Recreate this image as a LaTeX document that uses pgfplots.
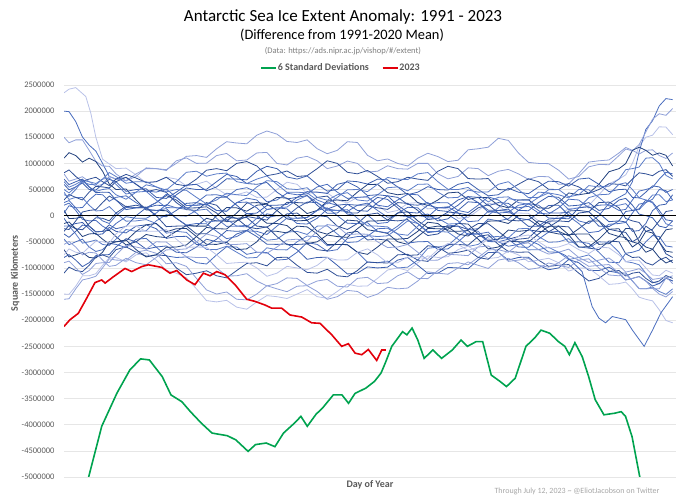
\documentclass[border=0pt]{standalone}
\usepackage{pgfplots}
\pgfplotsset{compat=1.18}
\usepackage{fontspec}
\setmainfont{Carlito}
\definecolor{c1}{HTML}{22417E}
\definecolor{c2}{HTML}{2F4F96}
\definecolor{c3}{HTML}{3C5FAF}
\definecolor{c4}{HTML}{4A6DBE}
\definecolor{c5}{HTML}{5B7CC8}
\definecolor{c6}{HTML}{8FA0D8}
\definecolor{c7}{HTML}{B8C1E8}
\definecolor{sdgreen}{HTML}{00A34F}
\definecolor{redline}{HTML}{E3000B}
\definecolor{lgray}{HTML}{595959}
\definecolor{notegray}{HTML}{7F7F7F}
\definecolor{footgray}{HTML}{A6A6A6}
\definecolor{gridgray}{HTML}{E6E6E6}
\begin{document}
\begin{tikzpicture}[x=1pt,y=1pt]
\path[use as bounding box] (0,0) rectangle (680,500);
\begin{axis}[
  at={(64pt,23pt)}, anchor=south west,
  scale only axis, width=612pt, height=392pt,
  xmin=1, xmax=366, ymin=-5000000, ymax=2500000,
  xtick=\empty,
  ytick={-5000000,-4500000,-4000000,-3500000,-3000000,-2500000,-2000000,-1500000,-1000000,-500000,0,500000,1000000,1500000,2000000,2500000},
  scaled y ticks=false,
  /pgf/number format/assume math mode=true,
  yticklabel style={/pgf/number format/fixed,/pgf/number format/1000 sep={},font=\fontsize{8.5}{10}\selectfont,text=lgray,anchor=east,xshift=-6pt},
  ymajorgrids, grid style={draw=gridgray,line width=0.6pt},
  axis line style={draw=none}, tick style={draw=none},
  xlabel={Day of Year}, ylabel={Square Kilometers},
  label style={font=\bfseries\fontsize{10}{12}\selectfont,text=lgray},
  xlabel style={at={(axis description cs:0.5,0)},anchor=center,yshift=-8pt},
  ylabel style={at={(axis description cs:-0.080,0.52)},anchor=center},
  legend style={at={(0.4518,1.0434)},anchor=center,draw=none,fill=none,
    font=\bfseries\fontsize{10}{12}\selectfont,text=lgray,
    legend columns=2,/tikz/every even column/.append style={column sep=12pt},
    inner sep=0pt,nodes={inner sep=1pt}},
  legend image code/.code={\draw[#1] (0pt,0pt) -- (15pt,0pt);},
  blue/.style={line width=0.8pt,forget plot},
]
% 1991-2022 (blue lines)
\addplot[blue,c7] coordinates {(1,2350000) (4,2420000) (8,2450000) (14,2280000) (17,1960000) (20,1500000) (24,1080000) (32,900000) (38,910000) (44,780000) (50,625000) (56,650000) (62,735000) (68,700000) (74,570000) (80,600000) (86,660000) (92,520000) (98,400000) (104,400000) (110,455000) (116,350000) (122,355000) (128,500000) (134,640000) (140,600000) (146,425000) (152,450000) (158,435000) (164,300000) (170,245000) (176,350000) (182,345000) (188,200000) (194,60000) (200,100000) (206,235000) (212,250000) (218,130000) (224,150000) (230,130000) (236,-50000) (242,-35000) (248,100000) (254,240000) (260,200000) (266,45000) (272,50000) (278,45000) (284,-100000) (290,-150000) (296,0) (302,135000) (308,150000) (314,195000) (320,400000) (326,610000) (332,700000) (336,780000) (340,1000000) (344,1330000) (348,1500000) (352,1540000) (356,1700000) (360,1695000) (364,1550000)};
\addplot[blue,c4] coordinates {(1,2000000) (4,1990000) (8,1800000) (12,1505000) (16,1350000) (20,1235000) (24,1000000) (28,750000) (32,700000) (38,730000) (44,600000) (50,475000) (56,450000) (62,510000) (68,350000) (74,195000) (80,200000) (86,220000) (92,100000) (98,85000) (104,250000) (110,335000) (116,300000) (122,115000) (128,150000) (134,130000) (140,-50000) (146,-35000) (152,100000) (158,250000) (164,200000) (170,30000) (176,0) (182,15000) (188,-150000) (194,-130000) (200,50000) (206,160000) (212,150000) (218,-25000) (224,0) (230,20000) (236,-100000) (242,-265000) (248,-250000) (254,-65000) (260,-100000) (266,-60000) (272,100000) (278,230000) (284,200000) (290,55000) (296,50000) (302,65000) (308,-100000) (314,-150000) (320,0) (326,235000) (332,350000) (336,420000) (340,650000) (344,1220000) (348,1650000) (352,1815000) (356,2100000) (360,2240000) (364,2220000)};
\addplot[blue,c6] coordinates {(1,1500000) (4,1395000) (8,1450000) (12,1450000) (16,1250000) (20,1040000) (24,950000) (28,945000) (32,800000) (38,665000) (44,750000) (50,915000) (56,900000) (62,880000) (68,1000000) (74,1135000) (80,1150000) (86,1115000) (92,1280000) (98,1415000) (104,1390000) (110,1375000) (116,1540000) (122,1620000) (128,1560000) (134,1420000) (140,1400000) (146,1450000) (152,1280000) (158,1185000) (164,1250000) (170,1415000) (176,1400000) (182,1155000) (188,1050000) (194,1085000) (200,1000000) (206,950000) (212,1100000) (218,1195000) (224,1130000) (230,1035000) (236,1060000) (242,1260000) (248,1280000) (254,1310000) (260,1480000) (266,1440000) (272,1200000) (278,1020000) (284,1000000) (290,995000) (296,870000) (302,700000) (308,750000) (314,935000) (320,980000) (326,975000) (332,1150000) (336,1275000) (340,1240000) (344,1360000) (348,1600000) (352,1845000) (356,1950000) (360,1920000) (364,2050000)};
\addplot[blue,c6] coordinates {(1,800000) (4,660000) (8,700000) (12,745000) (16,650000) (20,565000) (24,600000) (28,750000) (32,700000) (38,670000) (44,800000) (50,900000) (56,900000) (62,865000) (68,1050000) (74,1105000) (80,1000000) (86,1005000) (92,1150000) (98,1190000) (104,1050000) (110,1065000) (116,1200000) (122,1210000) (128,1000000) (134,970000) (140,1100000) (146,1135000) (152,1050000) (158,900000) (164,950000) (170,1045000) (176,1000000) (182,835000) (188,850000) (194,955000) (200,900000) (206,890000) (212,1000000) (218,1000000) (224,800000) (230,705000) (236,750000) (242,915000) (248,900000) (254,765000) (260,850000) (266,885000) (272,800000) (278,695000) (284,750000) (290,745000) (296,600000) (302,610000) (308,800000) (314,1025000) (320,1050000) (326,1065000) (332,1200000) (336,1305000) (340,1250000) (344,1180000) (348,1250000) (352,1260000) (356,1150000) (360,1095000) (364,1200000)};
\addplot[blue,c1] coordinates {(1,1100000) (4,1205000) (8,1150000) (12,1025000) (16,1100000) (20,1035000) (24,850000) (28,605000) (32,500000) (38,510000) (44,300000) (50,110000) (56,100000) (62,95000) (68,-50000) (74,-185000) (80,-200000) (86,-50000) (92,-100000) (98,-105000) (104,50000) (110,240000) (116,250000) (122,230000) (128,350000) (134,335000) (140,200000) (146,40000) (152,100000) (158,280000) (164,300000) (170,285000) (176,450000) (182,595000) (188,600000) (194,440000) (200,400000) (206,425000) (212,250000) (218,195000) (224,300000) (230,435000) (236,450000) (242,310000) (248,350000) (254,345000) (260,200000) (266,150000) (272,300000) (278,305000) (284,150000) (290,140000) (296,250000) (302,435000) (308,400000) (314,430000) (320,600000) (326,840000) (332,900000) (336,995000) (340,1250000) (344,1310000) (348,1250000) (352,1155000) (356,1200000) (360,1155000) (364,950000)};
\addplot[blue,c2] coordinates {(1,820000) (4,875000) (8,750000) (12,655000) (16,700000) (20,735000) (24,650000) (28,575000) (32,700000) (38,790000) (44,720000) (50,635000) (56,650000) (62,735000) (68,600000) (74,570000) (80,700000) (86,870000) (92,900000) (98,860000) (104,1000000) (110,1035000) (116,950000) (122,765000) (128,800000) (134,855000) (140,750000) (146,765000) (152,900000) (158,1050000) (164,1000000) (170,830000) (176,800000) (182,865000) (188,750000) (194,620000) (200,650000) (206,735000) (212,700000) (218,675000) (224,850000) (230,945000) (236,900000) (242,710000) (248,700000) (254,710000) (260,500000) (266,490000) (272,600000) (278,705000) (284,650000) (290,505000) (296,500000) (302,615000) (308,550000) (314,425000) (320,500000) (326,610000) (332,600000) (336,570000) (340,700000) (344,820000) (348,800000) (352,765000) (356,850000) (360,880000) (364,750000)};
\addplot[blue,c3] coordinates {(1,600000) (4,495000) (8,550000) (12,625000) (16,500000) (20,490000) (24,600000) (28,695000) (32,650000) (38,465000) (44,500000) (50,515000) (56,350000) (62,330000) (68,450000) (74,585000) (80,600000) (86,475000) (92,550000) (98,705000) (104,700000) (110,685000) (116,850000) (122,945000) (128,900000) (134,740000) (140,700000) (146,760000) (152,600000) (158,470000) (164,500000) (170,665000) (176,650000) (182,605000) (188,700000) (194,685000) (200,550000) (206,400000) (212,450000) (218,555000) (224,500000) (230,490000) (236,600000) (242,640000) (248,500000) (254,380000) (260,400000) (266,525000) (272,450000) (278,420000) (284,550000) (290,660000) (296,650000) (302,565000) (308,700000) (314,720000) (320,600000) (326,460000) (332,500000) (336,505000) (340,350000) (344,340000) (348,450000) (352,570000) (356,550000) (360,445000) (364,500000)};
\addplot[blue,c5] coordinates {(1,450000) (4,310000) (8,350000) (12,345000) (16,200000) (20,90000) (24,100000) (28,175000) (32,50000) (38,-105000) (44,-100000) (50,-75000) (56,-150000) (62,-335000) (68,-300000) (74,-320000) (80,-500000) (86,-645000) (92,-650000) (98,-585000) (104,-700000) (110,-810000) (116,-800000) (122,-615000) (128,-650000) (134,-655000) (140,-500000) (146,-390000) (152,-400000) (158,-575000) (164,-550000) (170,-555000) (176,-700000) (182,-890000) (188,-900000) (194,-870000) (200,-1000000) (206,-985000) (212,-850000) (218,-625000) (224,-600000) (230,-570000) (236,-400000) (242,-260000) (248,-300000) (254,-485000) (260,-450000) (266,-415000) (272,-500000) (278,-655000) (284,-650000) (290,-605000) (296,-700000) (302,-840000) (308,-800000) (314,-750000) (320,-900000) (326,-1060000) (332,-1100000) (336,-1095000) (340,-1250000) (344,-1395000) (348,-1400000) (352,-1365000) (356,-1450000) (360,-1505000) (364,-1400000)};
\addplot[blue,c2] coordinates {(1,300000) (4,405000) (8,350000) (12,300000) (16,450000) (20,560000) (24,550000) (28,530000) (32,650000) (38,735000) (44,600000) (50,460000) (56,500000) (62,445000) (68,250000) (74,115000) (80,100000) (86,250000) (92,200000) (98,-5000) (104,-50000) (110,-35000) (116,-200000) (122,-220000) (128,-100000) (134,35000) (140,50000) (146,-85000) (152,0) (158,-20000) (164,-200000) (170,-265000) (176,-150000) (182,20000) (188,50000) (194,-85000) (200,-100000) (206,-75000) (212,-250000) (218,-380000) (224,-350000) (230,-215000) (236,-200000) (242,-265000) (248,-150000) (254,-155000) (260,-300000) (266,-450000) (272,-400000) (278,-270000) (284,-300000) (290,-310000) (296,-200000) (302,-215000) (308,-450000) (314,-620000) (320,-650000) (326,-485000) (332,-500000) (336,-730000) (340,-800000) (344,-790000) (348,-900000) (352,-945000) (356,-850000) (360,-795000) (364,-900000)};
\addplot[blue,c4] coordinates {(1,200000) (4,240000) (8,100000) (12,-70000) (16,-100000) (20,-90000) (24,-200000) (28,-275000) (32,-150000) (38,-20000) (44,-50000) (50,-50000) (56,50000) (62,210000) (68,150000) (74,120000) (80,250000) (86,395000) (92,400000) (98,360000) (104,500000) (110,535000) (116,450000) (122,265000) (128,300000) (134,430000) (140,400000) (146,415000) (152,550000) (158,600000) (164,450000) (170,330000) (176,350000) (182,365000) (188,200000) (194,170000) (200,300000) (206,410000) (212,400000) (218,225000) (224,250000) (230,245000) (236,100000) (242,60000) (248,200000) (254,360000) (260,300000) (266,165000) (272,150000) (278,180000) (284,50000) (290,30000) (296,150000) (302,315000) (308,300000) (314,150000) (320,200000) (326,210000) (332,100000) (336,120000) (340,300000) (344,470000) (348,500000) (352,540000) (356,700000) (360,830000) (364,800000)};
\addplot[blue,c1] coordinates {(1,100000) (4,-55000) (8,-50000) (12,-25000) (16,-200000) (20,-310000) (24,-300000) (28,-280000) (32,-400000) (38,-560000) (44,-500000) (50,-360000) (56,-400000) (62,-420000) (68,-300000) (74,-190000) (80,-200000) (86,-200000) (92,0) (98,155000) (104,150000) (110,85000) (116,200000) (122,220000) (128,100000) (134,-60000) (140,-100000) (146,-90000) (152,-300000) (158,-355000) (164,-250000) (170,-85000) (176,-100000) (182,-270000) (188,-300000) (194,-340000) (200,-500000) (206,-550000) (212,-400000) (218,-245000) (224,-250000) (230,-260000) (236,-150000) (242,-160000) (248,-350000) (254,-470000) (260,-450000) (266,-275000) (272,-300000) (278,-280000) (284,-100000) (290,-140000) (296,-300000) (302,-385000) (308,-250000) (314,-105000) (320,-100000) (326,-340000) (332,-400000) (336,-420000) (340,-600000) (344,-510000) (348,-300000) (352,-330000) (356,-500000) (360,-680000) (364,-700000)};
\addplot[blue,c3] coordinates {(1,-50000) (4,-190000) (8,-150000) (12,-130000) (16,-250000) (20,-360000) (24,-350000) (28,-225000) (32,-300000) (38,-330000) (44,-200000) (50,-175000) (56,-250000) (62,-435000) (68,-400000) (74,-395000) (80,-550000) (86,-570000) (92,-450000) (98,-285000) (104,-300000) (110,-285000) (116,-150000) (122,35000) (128,0) (134,-5000) (140,150000) (146,260000) (152,250000) (158,125000) (164,200000) (170,220000) (176,100000) (182,85000) (188,250000) (194,380000) (200,350000) (206,215000) (212,200000) (218,250000) (224,100000) (230,80000) (236,200000) (242,365000) (248,350000) (254,190000) (260,250000) (266,235000) (272,100000) (278,95000) (284,250000) (290,370000) (296,350000) (302,185000) (308,200000) (314,250000) (320,100000) (326,140000) (332,300000) (336,330000) (340,200000) (344,30000) (348,0) (352,-40000) (356,-200000) (360,-230000) (364,-100000)};
\addplot[blue,c5] coordinates {(1,-200000) (4,-195000) (8,-350000) (12,-525000) (16,-500000) (20,-465000) (24,-550000) (28,-570000) (32,-450000) (38,-265000) (44,-300000) (50,-290000) (56,-100000) (62,20000) (68,0) (74,-10000) (80,100000) (86,125000) (92,-50000) (98,-205000) (104,-200000) (110,-185000) (116,-350000) (122,-470000) (128,-450000) (134,-315000) (140,-300000) (146,-360000) (152,-200000) (158,-195000) (164,-350000) (170,-515000) (176,-500000) (182,-380000) (188,-400000) (194,-385000) (200,-250000) (206,-100000) (212,-150000) (218,-305000) (224,-300000) (230,-315000) (236,-450000) (242,-590000) (248,-550000) (254,-405000) (260,-400000) (266,-425000) (272,-250000) (278,-245000) (284,-400000) (290,-510000) (296,-500000) (302,-440000) (308,-600000) (314,-620000) (320,-500000) (326,-510000) (332,-700000) (336,-880000) (340,-900000) (344,-940000) (348,-1100000) (352,-1270000) (356,-1300000) (360,-1195000) (364,-1250000)};
\addplot[blue,c2] coordinates {(1,-300000) (4,-185000) (8,-250000) (12,-270000) (16,-150000) (20,-40000) (24,-50000) (28,-100000) (32,50000) (38,180000) (44,150000) (50,150000) (56,250000) (62,385000) (68,300000) (74,145000) (80,150000) (86,170000) (92,50000) (98,-115000) (104,-100000) (110,-15000) (116,-50000) (122,-85000) (128,100000) (134,255000) (140,250000) (146,240000) (152,350000) (158,375000) (164,200000) (170,55000) (176,50000) (182,190000) (188,150000) (194,120000) (200,250000) (206,235000) (212,100000) (218,-75000) (224,-50000) (230,70000) (236,50000) (242,10000) (248,150000) (254,210000) (260,50000) (266,-85000) (272,-100000) (278,-70000) (284,-200000) (290,-220000) (296,-100000) (302,90000) (308,100000) (314,75000) (320,250000) (326,260000) (332,150000) (336,-55000) (340,-100000) (344,-130000) (348,-300000) (352,-260000) (356,-100000) (360,80000) (364,100000)};
\addplot[blue,c4] coordinates {(1,-450000) (4,-555000) (8,-500000) (12,-450000) (16,-600000) (20,-685000) (24,-650000) (28,-530000) (32,-550000) (38,-610000) (44,-450000) (50,-435000) (56,-600000) (62,-770000) (68,-800000) (74,-790000) (80,-900000) (86,-925000) (92,-750000) (98,-595000) (104,-600000) (110,-740000) (116,-700000) (122,-705000) (128,-850000) (134,-835000) (140,-700000) (146,-515000) (152,-550000) (158,-680000) (164,-650000) (170,-435000) (176,-400000) (182,-395000) (188,-250000) (194,-240000) (200,-350000) (206,-525000) (212,-500000) (218,-495000) (224,-650000) (230,-635000) (236,-500000) (242,-335000) (248,-350000) (254,-495000) (260,-500000) (266,-450000) (272,-600000) (278,-605000) (284,-450000) (290,-315000) (296,-300000) (302,-510000) (308,-500000) (314,-530000) (320,-700000) (326,-890000) (332,-900000) (336,-720000) (340,-700000) (344,-660000) (348,-500000) (352,-380000) (356,-400000) (360,-580000) (364,-600000)};
\addplot[blue,c1] coordinates {(1,-650000) (4,-790000) (8,-750000) (12,-705000) (16,-800000) (20,-810000) (24,-700000) (28,-500000) (32,-500000) (38,-480000) (44,-300000) (50,-175000) (56,-150000) (62,-310000) (68,-250000) (74,-245000) (80,-400000) (86,-545000) (92,-550000) (98,-510000) (104,-650000) (110,-635000) (116,-500000) (122,-290000) (128,-300000) (134,-330000) (140,-200000) (146,-215000) (152,-350000) (158,-550000) (164,-550000) (170,-555000) (176,-700000) (182,-740000) (188,-600000) (194,-445000) (200,-450000) (206,-435000) (212,-300000) (218,-125000) (224,-150000) (230,-295000) (236,-300000) (242,-285000) (248,-450000) (254,-635000) (260,-600000) (266,-490000) (272,-500000) (278,-505000) (284,-350000) (290,-205000) (296,-200000) (302,-365000) (308,-350000) (314,-350000) (320,-550000) (326,-535000) (332,-400000) (336,-245000) (340,-250000) (344,-495000) (348,-600000) (352,-640000) (356,-800000) (360,-905000) (364,-850000)};
\addplot[blue,c3] coordinates {(1,-800000) (4,-745000) (8,-850000) (12,-975000) (16,-900000) (20,-765000) (24,-750000) (28,-745000) (32,-600000) (38,-440000) (44,-500000) (50,-640000) (56,-600000) (62,-580000) (68,-700000) (74,-710000) (80,-600000) (86,-450000) (92,-500000) (98,-505000) (104,-350000) (110,-285000) (116,-400000) (122,-545000) (128,-550000) (134,-540000) (140,-650000) (146,-835000) (152,-800000) (158,-795000) (164,-950000) (170,-1115000) (176,-1100000) (182,-980000) (188,-1000000) (194,-985000) (200,-850000) (206,-800000) (212,-950000) (218,-1105000) (224,-1100000) (230,-990000) (236,-1000000) (242,-1015000) (248,-850000) (254,-705000) (260,-700000) (266,-850000) (272,-800000) (278,-795000) (284,-950000) (290,-1035000) (296,-1000000) (302,-840000) (308,-900000) (314,-1045000) (320,-1050000) (326,-985000) (332,-1100000) (336,-1230000) (340,-1200000) (344,-1165000) (348,-1250000) (352,-1345000) (356,-1300000) (360,-1195000) (364,-1250000)};
\addplot[blue,c2] coordinates {(1,-1100000) (4,-985000) (8,-1050000) (12,-1070000) (16,-950000) (20,-790000) (24,-750000) (28,-800000) (32,-650000) (38,-595000) (44,-700000) (50,-775000) (56,-750000) (62,-765000) (68,-1000000) (74,-1130000) (80,-1100000) (86,-1055000) (92,-1150000) (98,-1190000) (104,-1050000) (110,-915000) (116,-900000) (122,-960000) (128,-800000) (134,-795000) (140,-950000) (146,-1085000) (152,-1100000) (158,-1025000) (164,-1150000) (170,-1170000) (176,-1050000) (182,-885000) (188,-900000) (194,-905000) (200,-750000) (206,-740000) (212,-850000) (218,-875000) (224,-700000) (230,-555000) (236,-550000) (242,-565000) (248,-400000) (254,-365000) (260,-550000) (266,-685000) (272,-700000) (278,-695000) (284,-850000) (290,-970000) (296,-950000) (302,-935000) (308,-1100000) (314,-1250000) (320,-1200000) (326,-1065000) (332,-1050000) (336,-1155000) (340,-1100000) (344,-1080000) (348,-1200000) (352,-1285000) (356,-1250000) (360,-1145000) (364,-1200000)};
\addplot[blue,c7] coordinates {(1,-1500000) (4,-1505000) (8,-1350000) (12,-1150000) (16,-1150000) (20,-1110000) (24,-950000) (28,-805000) (32,-800000) (38,-885000) (44,-750000) (50,-710000) (56,-850000) (62,-1045000) (68,-1100000) (74,-1190000) (80,-1400000) (86,-1625000) (92,-1650000) (98,-1620000) (104,-1750000) (110,-1790000) (116,-1650000) (122,-1530000) (128,-1550000) (134,-1585000) (140,-1500000) (146,-1415000) (152,-1550000) (158,-1580000) (164,-1450000) (170,-1310000) (176,-1350000) (182,-1345000) (188,-1200000) (194,-1040000) (200,-1000000) (206,-1050000) (212,-900000) (218,-770000) (224,-800000) (230,-785000) (236,-650000) (242,-585000) (248,-700000) (254,-820000) (260,-800000) (266,-675000) (272,-750000) (278,-880000) (284,-850000) (290,-815000) (296,-900000) (302,-1060000) (308,-1000000) (314,-1005000) (320,-1150000) (326,-1315000) (332,-1300000) (336,-1270000) (340,-1400000) (344,-1560000) (348,-1600000) (352,-1630000) (356,-1800000) (360,-2005000) (364,-2050000)};
\addplot[blue,c6] coordinates {(1,-1600000) (4,-1590000) (8,-1400000) (12,-1230000) (16,-1200000) (20,-1160000) (24,-1000000) (28,-825000) (32,-850000) (38,-855000) (44,-700000) (50,-660000) (56,-720000) (62,-920000) (68,-900000) (74,-970000) (80,-1200000) (86,-1420000) (92,-1500000) (98,-1460000) (104,-1600000) (110,-1610000) (116,-1500000) (122,-1340000) (128,-1400000) (134,-1455000) (140,-1350000) (146,-1340000) (152,-1450000) (158,-1600000) (164,-1550000) (170,-1430000) (176,-1450000) (182,-1565000) (188,-1500000) (194,-1370000) (200,-1400000) (206,-1385000) (212,-1250000) (218,-1075000) (224,-1100000) (230,-1120000) (236,-1000000) (242,-885000) (248,-950000) (254,-1010000) (260,-850000) (266,-815000) (272,-900000) (278,-1030000) (284,-1000000) (290,-905000) (296,-950000) (302,-990000) (308,-850000) (314,-825000) (320,-1000000) (326,-1135000) (332,-1150000) (336,-1120000) (340,-1250000) (344,-1395000) (348,-1400000) (352,-1390000) (356,-1500000) (360,-1555000) (364,-1450000)};
\addplot[blue,c6] coordinates {(1,-900000) (4,-870000) (8,-1000000) (12,-1125000) (16,-1050000) (20,-915000) (24,-900000) (28,-895000) (32,-750000) (38,-565000) (44,-600000) (50,-640000) (56,-500000) (62,-505000) (68,-650000) (74,-785000) (80,-800000) (86,-800000) (92,-1000000) (98,-1155000) (104,-1150000) (110,-1110000) (116,-1250000) (122,-1345000) (128,-1300000) (134,-1190000) (140,-1200000) (146,-1335000) (152,-1250000) (158,-1220000) (164,-1350000) (170,-1365000) (176,-1200000) (182,-1180000) (188,-1300000) (194,-1285000) (200,-1150000) (206,-1075000) (212,-1200000) (218,-1205000) (224,-1050000) (230,-915000) (236,-900000) (242,-940000) (248,-800000) (254,-655000) (260,-650000) (266,-700000) (272,-550000) (278,-520000) (284,-650000) (290,-735000) (296,-700000) (302,-640000) (308,-800000) (314,-895000) (320,-850000) (326,-810000) (332,-950000) (336,-1080000) (340,-1050000) (344,-1015000) (348,-1100000) (352,-1220000) (356,-1200000) (360,-1170000) (364,-1300000)};
\addplot[blue,c4] coordinates {(1,250000) (4,290000) (8,150000) (12,5000) (16,0) (20,10000) (24,-100000) (28,-150000) (32,0) (38,155000) (44,150000) (50,150000) (56,250000) (62,410000) (68,350000) (74,195000) (80,200000) (86,220000) (92,100000) (98,85000) (104,250000) (110,260000) (116,150000) (122,-35000) (128,0) (134,5000) (140,-150000) (146,-160000) (152,-50000) (158,125000) (164,100000) (170,80000) (176,200000) (182,240000) (188,100000) (194,-30000) (200,0) (206,-15000) (212,-150000) (218,-325000) (224,-300000) (230,-180000) (236,-200000) (242,-365000) (248,-350000) (254,-315000) (260,-500000) (266,-585000) (272,-550000) (278,-470000) (284,-550000) (290,-695000) (296,-700000) (300,-760000) (304,-880000) (310,-1070000) (316,-1740000) (320,-1960000) (324,-2050000) (328,-1930000) (336,-1990000) (340,-2190000) (347,-2500000) (352,-2190000) (357,-1860000) (364,-1550000)};
\addplot[blue,c5] coordinates {(1,650000) (4,545000) (8,600000) (12,675000) (16,550000) (20,465000) (24,500000) (28,520000) (32,400000) (38,315000) (44,450000) (50,590000) (56,550000) (62,455000) (68,500000) (74,485000) (80,350000) (86,225000) (92,300000) (98,430000) (104,400000) (110,385000) (116,550000) (122,670000) (128,650000) (134,515000) (140,500000) (146,535000) (152,350000) (158,295000) (164,400000) (170,440000) (176,300000) (182,280000) (188,400000) (194,535000) (200,550000) (206,475000) (212,600000) (218,605000) (224,450000) (230,340000) (236,350000) (242,490000) (248,450000) (254,455000) (260,600000) (266,650000) (272,500000) (278,345000) (284,350000) (290,435000) (296,400000) (302,340000) (308,500000) (314,495000) (320,350000) (326,185000) (332,200000) (336,230000) (340,100000) (344,115000) (348,250000) (352,395000) (356,400000) (360,270000) (364,300000)};
\addplot[blue,c3] coordinates {(1,-350000) (4,-415000) (8,-300000) (12,-180000) (16,-200000) (20,-310000) (24,-300000) (28,-175000) (32,-250000) (38,-205000) (44,0) (50,150000) (56,200000) (62,190000) (68,400000) (74,530000) (80,500000) (86,505000) (92,650000) (98,790000) (104,750000) (110,615000) (116,600000) (122,635000) (128,450000) (134,320000) (140,350000) (146,460000) (152,450000) (158,425000) (164,600000) (170,645000) (176,550000) (182,385000) (188,400000) (194,380000) (200,200000) (206,65000) (212,50000) (218,200000) (224,150000) (230,155000) (236,300000) (242,365000) (248,250000) (254,65000) (260,100000) (266,85000) (272,-50000) (278,-80000) (284,50000) (290,195000) (296,200000) (302,10000) (308,0) (314,0) (320,-200000) (326,-210000) (332,-100000) (336,80000) (340,100000) (344,130000) (348,300000) (352,260000) (356,100000) (360,-80000) (364,-100000)};
\addplot[blue,c1] coordinates {(1,-150000) (4,-120000) (8,-250000) (12,-400000) (16,-350000) (20,-340000) (24,-450000) (28,-545000) (32,-500000) (38,-465000) (44,-650000) (50,-790000) (56,-750000) (62,-605000) (68,-600000) (74,-560000) (80,-400000) (86,-225000) (92,-250000) (98,-255000) (104,-100000) (110,40000) (116,0) (122,-145000) (128,-150000) (134,-190000) (140,-350000) (146,-535000) (152,-500000) (158,-370000) (164,-400000) (170,-415000) (176,-250000) (182,-105000) (188,-100000) (194,-85000) (200,50000) (206,75000) (212,-100000) (218,-230000) (224,-200000) (230,-215000) (236,-350000) (242,-390000) (248,-250000) (254,-105000) (260,-100000) (266,-150000) (272,0) (278,5000) (284,-150000) (290,-310000) (296,-350000) (302,-365000) (308,-600000) (314,-595000) (320,-450000) (326,-260000) (332,-250000) (336,-455000) (340,-500000) (344,-540000) (348,-700000) (352,-645000) (356,-450000) (360,-270000) (364,-250000)};
\addplot[blue,c4] coordinates {(1,50000) (4,190000) (8,150000) (12,155000) (16,300000) (20,410000) (24,400000) (28,275000) (32,350000) (38,380000) (44,250000) (50,125000) (56,100000) (62,135000) (68,-50000) (74,-180000) (80,-150000) (86,-155000) (92,-300000) (98,-440000) (104,-400000) (110,-290000) (116,-300000) (122,-360000) (128,-200000) (134,-45000) (140,-50000) (146,-35000) (152,100000) (158,150000) (164,0) (170,-145000) (176,-150000) (182,-135000) (188,-300000) (194,-330000) (200,-200000) (206,-40000) (212,0) (218,-25000) (224,150000) (230,170000) (236,50000) (242,-115000) (248,-100000) (254,85000) (260,50000) (266,65000) (272,200000) (278,230000) (284,100000) (290,-45000) (296,-50000) (302,-10000) (308,-150000) (314,-325000) (320,-300000) (326,-165000) (332,-150000) (336,-130000) (340,50000) (344,220000) (348,250000) (352,315000) (356,500000) (360,480000) (364,300000)};
\addplot[blue,c5] coordinates {(1,400000) (4,370000) (8,500000) (12,675000) (16,650000) (20,615000) (24,700000) (28,720000) (32,600000) (38,415000) (44,450000) (50,465000) (56,300000) (62,155000) (68,150000) (74,160000) (80,50000) (86,-125000) (92,-100000) (98,-70000) (104,-200000) (110,-215000) (116,-50000) (122,120000) (128,150000) (134,165000) (140,300000) (146,385000) (152,250000) (158,95000) (164,100000) (170,115000) (176,-50000) (182,-195000) (188,-200000) (194,-215000) (200,-350000) (206,-375000) (212,-200000) (218,-45000) (224,-50000) (230,-160000) (236,-150000) (242,15000) (248,0) (254,5000) (260,150000) (266,325000) (272,300000) (278,295000) (284,450000) (290,435000) (296,300000) (302,115000) (308,150000) (314,345000) (320,400000) (326,410000) (332,600000) (336,630000) (340,500000) (344,340000) (348,300000) (352,245000) (356,50000) (360,-155000) (364,-200000)};
\addplot[blue,c2] coordinates {(1,-250000) (4,-265000) (8,-100000) (12,70000) (16,100000) (20,115000) (24,250000) (28,375000) (32,300000) (38,170000) (44,200000) (50,150000) (56,0) (62,-210000) (68,-200000) (74,-195000) (80,-350000) (86,-345000) (92,-200000) (98,-35000) (104,-50000) (110,-210000) (116,-250000) (122,-215000) (128,-400000) (134,-555000) (140,-550000) (146,-540000) (152,-650000) (158,-675000) (164,-500000) (170,-330000) (176,-300000) (182,-465000) (188,-450000) (194,-470000) (200,-650000) (206,-760000) (212,-750000) (218,-575000) (224,-600000) (230,-720000) (236,-700000) (242,-660000) (248,-800000) (254,-835000) (260,-650000) (266,-490000) (272,-450000) (278,-430000) (284,-250000) (290,-105000) (296,-100000) (302,-115000) (308,50000) (314,75000) (320,-100000) (326,-260000) (332,-300000) (336,-320000) (340,-500000) (344,-420000) (348,-200000) (352,-290000) (356,-500000) (360,-730000) (364,-800000)};
\addplot[blue,c6] coordinates {(1,-550000) (4,-495000) (8,-600000) (12,-750000) (16,-700000) (20,-715000) (24,-850000) (28,-970000) (32,-950000) (38,-815000) (44,-900000) (50,-940000) (56,-800000) (62,-655000) (68,-650000) (74,-635000) (80,-500000) (86,-350000) (92,-400000) (98,-555000) (104,-550000) (110,-535000) (116,-700000) (122,-720000) (128,-600000) (134,-465000) (140,-450000) (146,-485000) (152,-300000) (158,-170000) (164,-200000) (170,-365000) (176,-350000) (182,-355000) (188,-500000) (194,-610000) (200,-600000) (206,-550000) (212,-700000) (218,-855000) (224,-850000) (230,-740000) (236,-750000) (242,-765000) (248,-600000) (254,-580000) (260,-700000) (266,-875000) (272,-850000) (278,-820000) (284,-950000) (290,-985000) (296,-900000) (302,-765000) (308,-850000) (314,-970000) (320,-950000) (326,-935000) (332,-1100000) (336,-1230000) (340,-1200000) (344,-1165000) (348,-1250000) (352,-1395000) (356,-1400000) (360,-1195000) (364,-1150000)};
\addplot[blue,c7] coordinates {(1,-750000) (4,-635000) (8,-700000) (12,-720000) (16,-600000) (20,-490000) (24,-500000) (28,-525000) (32,-350000) (38,-195000) (44,-200000) (50,-300000) (56,-300000) (62,-265000) (68,-450000) (74,-605000) (80,-600000) (86,-605000) (92,-750000) (98,-915000) (104,-900000) (110,-890000) (116,-1000000) (122,-1160000) (128,-1100000) (134,-970000) (140,-1000000) (146,-1035000) (152,-950000) (158,-800000) (164,-850000) (170,-845000) (176,-700000) (182,-635000) (188,-750000) (194,-905000) (200,-900000) (206,-790000) (212,-800000) (218,-825000) (224,-650000) (230,-530000) (236,-550000) (242,-665000) (248,-600000) (254,-440000) (260,-500000) (266,-510000) (272,-400000) (278,-370000) (284,-500000) (290,-620000) (296,-600000) (302,-535000) (308,-650000) (314,-725000) (320,-600000) (326,-615000) (332,-750000) (336,-880000) (340,-850000) (344,-855000) (348,-1000000) (352,-1135000) (356,-1150000) (360,-1045000) (364,-1100000)};
\addplot[blue,c3] coordinates {(1,700000) (4,595000) (8,650000) (12,700000) (16,550000) (20,440000) (24,450000) (28,445000) (32,300000) (38,115000) (44,150000) (50,165000) (56,0) (62,-20000) (68,100000) (74,235000) (80,250000) (86,200000) (92,350000) (98,355000) (104,200000) (110,35000) (116,50000) (122,195000) (128,200000) (134,215000) (140,350000) (146,385000) (152,200000) (158,45000) (164,50000) (170,215000) (176,200000) (182,205000) (188,350000) (194,310000) (200,150000) (206,-25000) (212,0) (218,30000) (224,-100000) (230,-60000) (236,100000) (242,265000) (248,250000) (254,105000) (260,100000) (266,125000) (272,-50000) (278,-205000) (284,-200000) (290,-65000) (296,-50000) (302,-60000) (308,150000) (314,170000) (320,50000) (326,-115000) (332,-100000) (336,-120000) (340,-300000) (344,-285000) (348,-150000) (352,95000) (356,200000) (360,220000) (364,400000)};
\addplot[blue,c5] coordinates {(1,500000) (4,435000) (8,550000) (12,645000) (16,600000) (20,590000) (24,700000) (28,825000) (32,750000) (38,620000) (44,650000) (50,650000) (56,550000) (62,490000) (68,650000) (74,830000) (80,850000) (86,755000) (92,800000) (98,815000) (104,650000) (110,615000) (116,700000) (122,760000) (128,600000) (134,445000) (140,450000) (146,435000) (152,300000) (158,225000) (164,350000) (170,495000) (176,500000) (182,460000) (188,600000) (194,730000) (200,700000) (206,690000) (212,800000) (218,825000) (224,650000) (230,505000) (236,500000) (242,540000) (248,400000) (254,265000) (260,350000) (266,360000) (272,250000) (278,220000) (284,350000) (290,495000) (296,500000) (302,360000) (308,400000) (314,575000) (320,550000) (326,565000) (332,700000) (336,880000) (340,900000) (344,930000) (348,1100000) (352,1110000) (356,1000000) (360,770000) (364,700000)};
% zero line
\addplot[black,line width=1.2pt,forget plot] coordinates {(1,0) (366,0)};
% 6 standard deviations
\addplot[sdgreen,line width=1.6pt] coordinates {(15.7,-5000000) (23.5,-4030000) (32.5,-3400000) (40.3,-2950000) (46.7,-2740000) (51.9,-2760000) (59.6,-3080000) (64.8,-3430000) (71.3,-3560000) (76.4,-3750000) (82.9,-3970000) (89.3,-4160000) (98.4,-4210000) (103.5,-4290000) (110.8,-4510000) (115.2,-4380000) (121.6,-4350000) (126.8,-4420000) (131.9,-4160000) (138.4,-3970000) (142.3,-3840000) (146.1,-4030000) (151.3,-3800000) (155.2,-3680000) (161.6,-3430000) (166.8,-3430000) (170.7,-3590000) (174.6,-3400000) (181.0,-3300000) (186.2,-3170000) (190.1,-3010000) (192.6,-2820000) (196.5,-2500000) (202.9,-2220000) (205.5,-2280000) (208.6,-2150000) (212.0,-2380000) (215.8,-2730000) (221.0,-2570000) (226.2,-2730000) (232.6,-2570000) (237.8,-2380000) (241.6,-2500000) (246.8,-2410000) (250.7,-2410000) (255.8,-3050000) (261.0,-3170000) (264.9,-3270000) (270.1,-3110000) (276.5,-2500000) (281.7,-2340000) (285.5,-2190000) (290.7,-2250000) (295.9,-2410000) (299.7,-2500000) (302.4,-2660000) (305.7,-2430000) (310.1,-2700000) (313.9,-3080000) (317.8,-3520000) (323.0,-3810000) (329.4,-3780000) (333.3,-3750000) (335.9,-3840000) (339.8,-4230000) (344.4,-5000000)};
\addlegendentry{6 Standard Deviations}
% 2023
\addplot[redline,line width=1.6pt] coordinates {(1,-2120000) (4.6,-1990000) (9.5,-1870000) (14.5,-1580000) (19.5,-1280000) (23.5,-1230000) (25.5,-1290000) (30.4,-1170000) (37.4,-1010000) (41.4,-1070000) (47.3,-975000) (51.3,-940000) (59.3,-990000) (64.2,-1100000) (68.2,-1050000) (74.2,-1230000) (79.1,-1320000) (84.1,-1100000) (88.1,-1150000) (92.1,-1070000) (97.0,-1130000) (103.0,-1320000) (110.0,-1600000) (114.9,-1640000) (120.9,-1710000) (124.9,-1770000) (130.8,-1770000) (135.8,-1900000) (142.8,-1940000) (148.7,-2050000) (153.7,-2060000) (160.7,-2280000) (166.6,-2500000) (170.6,-2450000) (174.6,-2630000) (178.6,-2660000) (182.5,-2560000) (187.5,-2770000) (190.5,-2570000) (193,-2570000)};
\addlegendentry{2023}
\end{axis}
\node[font=\fontsize{17}{20}\selectfont] at (343,483) {Antarctic Sea Ice Extent Anomaly: 1991 - 2023};
\node[font=\fontsize{14.4}{17}\selectfont] at (342,465) {(Difference from 1991-2020 Mean)};
\node[font=\fontsize{8.5}{10}\selectfont,text=notegray] at (343,449) {(Data: https://ads.nipr.ac.jp/vishop/\#/extent)};
\node[font=\fontsize{8}{10}\selectfont,text=footgray,anchor=east] at (663,9) {Through July 12, 2023 \textasciitilde{} @EliotJacobson on Twitter};
\end{tikzpicture}
\end{document}
